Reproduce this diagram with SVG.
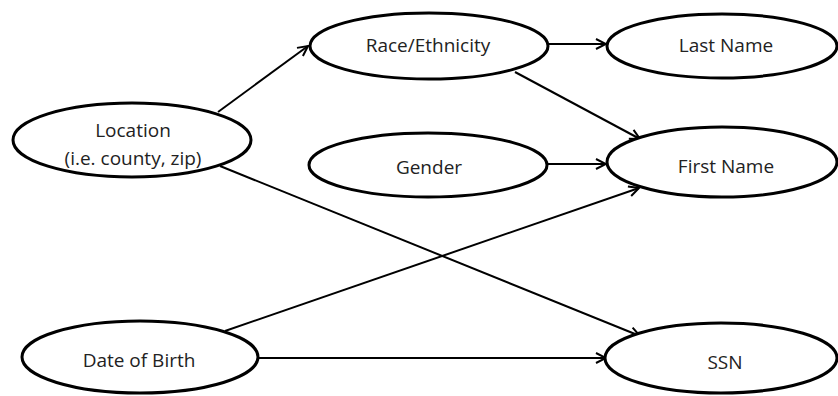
<svg xmlns="http://www.w3.org/2000/svg" width="838" height="396" viewBox="0 0 838 396">
<style>
.node ellipse{fill:#fff;stroke:#000;stroke-width:3}
.node text{font-family:"Open Sans","Liberation Sans",sans-serif;font-size:19px;fill:#222;text-anchor:middle}
.edges line{stroke:#000;stroke-width:2;marker-end:url(#arr)}
</style>
<defs>
<marker id="arr" viewBox="0 0 12 12" refX="11" refY="6" markerWidth="12" markerHeight="12" markerUnits="userSpaceOnUse" orient="auto">
<path d="M1,1 L11,6 L1,11" fill="none" stroke="#000" stroke-width="2"/>
</marker>
</defs>
<rect width="838" height="396" fill="#fff"/>
<g class="edges">
<line x1="218" y1="112" x2="308" y2="46"/>
<line x1="220" y1="166" x2="640" y2="336"/>
<line x1="548" y1="44" x2="606" y2="44"/>
<line x1="515" y1="72" x2="640" y2="139"/>
<line x1="547" y1="164" x2="606" y2="164"/>
<line x1="225" y1="331" x2="639" y2="188"/>
<line x1="259" y1="358" x2="606" y2="358"/>
</g>
<g id="location" class="node"><ellipse cx="132" cy="140" rx="119" ry="37"/><text x="133" y="137">Location</text><text x="133" y="165">(i.e. county, zip)</text></g>
<g id="race" class="node"><ellipse cx="429" cy="46" rx="119" ry="33"/><text x="428" y="52">Race/Ethnicity</text></g>
<g id="lastname" class="node"><ellipse cx="722" cy="46" rx="115" ry="32"/><text x="726" y="52">Last Name</text></g>
<g id="gender" class="node"><ellipse cx="428" cy="165" rx="119" ry="32"/><text x="429" y="174">Gender</text></g>
<g id="firstname" class="node"><ellipse cx="722" cy="162" rx="115" ry="35"/><text x="726" y="173">First Name</text></g>
<g id="dob" class="node"><ellipse cx="140" cy="357" rx="118" ry="36"/><text x="139" y="367">Date of Birth</text></g>
<g id="ssn" class="node"><ellipse cx="721" cy="358" rx="116" ry="35"/><text x="725" y="369">SSN</text></g>
</svg>
